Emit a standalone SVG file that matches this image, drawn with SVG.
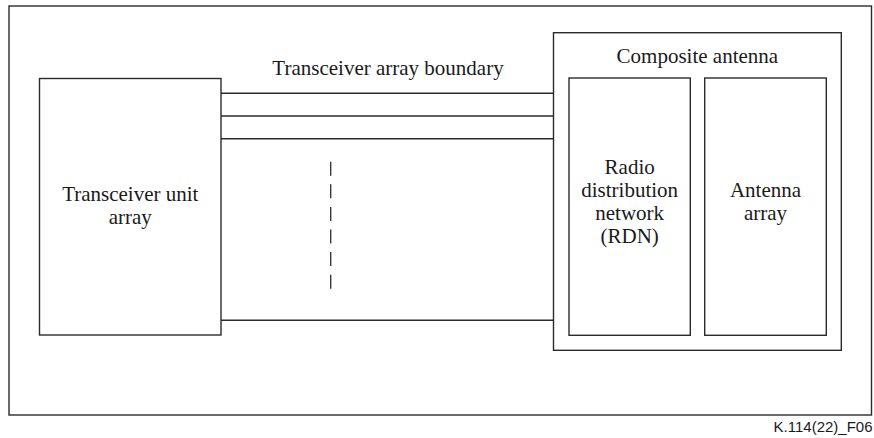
<svg xmlns="http://www.w3.org/2000/svg" width="874" height="438" viewBox="0 0 874 438">
  <style>
    .box { fill: #ffffff; stroke: #2b2b2b; stroke-width: 1.4; }
    .wire { fill: none; stroke: #2b2b2b; stroke-width: 1.4; }
    .dash { fill: none; stroke: #3a3a3a; stroke-width: 1.4; stroke-dasharray: 14 8.6; }
    .lbl { font-family: 'Liberation Serif', 'Times New Roman', Times, serif; font-size: 21px; fill: #1a1a1a; text-anchor: middle; }
    .tag { font-family: 'Liberation Sans', Arial, sans-serif; font-size: 15px; fill: #1a1a1a; text-anchor: end; }
  </style>
  <rect width="874" height="438" fill="#ffffff"/>

  <!-- outer frame -->
  <rect id="frame" class="box" x="9" y="6" width="862.5" height="409"/>

  <!-- transceiver array boundary: parallel feed lines -->
  <g id="connectors">
    <line class="wire" x1="221" y1="93.3" x2="553.5" y2="93.3"/>
    <line class="wire" x1="221" y1="116" x2="553.5" y2="116"/>
    <line class="wire" x1="221" y1="138.7" x2="553.5" y2="138.7"/>
    <line class="wire" x1="221" y1="320.3" x2="553.5" y2="320.3"/>
    <line class="dash" x1="330.7" y1="161.7" x2="330.7" y2="290"/>
  </g>
  <text id="boundary-label" class="lbl" x="388" y="75" font-family="Liberation Serif, serif">Transceiver array boundary</text>

  <g id="transceiver-unit-array">
    <rect class="box" x="39.5" y="78.5" width="181.5" height="256.5"/>
    <text class="lbl" x="130.3" y="201">Transceiver unit</text>
    <text class="lbl" x="130.3" y="224">array</text>
  </g>

  <g id="composite-antenna">
    <rect class="box" x="553.5" y="32.7" width="287.8" height="317.6"/>
    <text class="lbl" x="697.4" y="62.5">Composite antenna</text>
  </g>

  <g id="rdn">
    <rect class="box" x="569" y="78" width="121.3" height="257.3"/>
    <text class="lbl" x="629.7" y="173.5">Radio</text>
    <text class="lbl" x="629.7" y="196.8">distribution</text>
    <text class="lbl" x="629.7" y="220">network</text>
    <text class="lbl" x="629.7" y="243.3">(RDN)</text>
  </g>

  <g id="antenna-array">
    <rect class="box" x="704.7" y="78" width="121.6" height="257.3"/>
    <text class="lbl" x="765.5" y="196.8">Antenna</text>
    <text class="lbl" x="765.5" y="220">array</text>
  </g>

  <text id="figure-tag" class="tag" x="872.5" y="432">K.114(22)_F06</text>
</svg>
